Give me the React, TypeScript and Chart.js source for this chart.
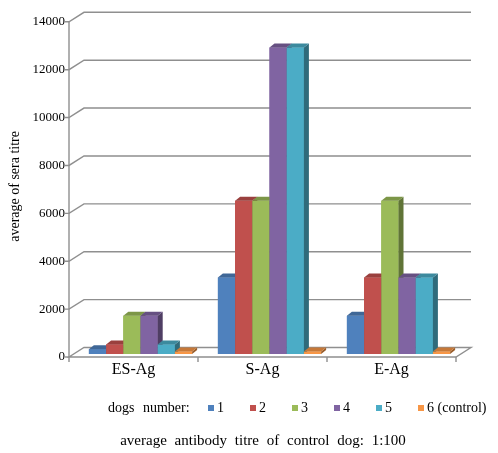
import React, { useEffect, useRef } from 'react';
import { Chart, registerables } from 'chart.js';

Chart.register(...registerables);

// data
const antigens = ['ES-Ag', 'S-Ag', 'E-Ag'];
const dogLabels = ['1', '2', '3', '4', '5', '6 (control)'];
const dog1 = [200, 3200, 1600];
const dog2 = [400, 6400, 3200];
const dog3 = [1600, 6400, 6400];
const dog4 = [1600, 12800, 3200];
const dog5 = [400, 12800, 3200];
const dog6 = [100, 100, 100];
const dogValues = [dog1, dog2, dog3, dog4, dog5, dog6];
const dogColors = ['#4F81BD', '#C0504D', '#9BBB59', '#8064A2', '#4BACC6', '#F79646'];
const yMax = 14000;
const yStep = 2000;
const yTitle = 'average of sera titre';
const legendTitle = 'dogs number:';
const caption = 'average antibody titre of control dog: 1:100';

const FONT = '"Liberation Serif", "Times New Roman", serif';
const GRID = '#8f8f8f';
// fake 3d: front plane, back wall and bar depth offsets (px)
const FRONT = { dx: -7, dy: 3 };
const BACK = { dx: 8, dy: -6.5 };
const DEPTH = { dx: 5, dy: -4 };

const shade = (hex: string, f: number) => {
  const n = parseInt(hex.slice(1), 16);
  const r = Math.round(((n >> 16) & 255) * f);
  const g = Math.round(((n >> 8) & 255) * f);
  const b = Math.round((n & 255) * f);
  return `rgb(${r},${g},${b})`;
};

const wallPlugin = {
  id: 'wall3d',
  beforeDatasetsDraw(chart: any) {
    const { ctx, chartArea: a, scales } = chart;
    const y = scales.y;
    const x = scales.x;
    const fl = a.left + FRONT.dx;
    const fr = a.right + FRONT.dx;
    const bl = a.left + BACK.dx;
    const br = a.right + BACK.dx;
    const y0 = y.getPixelForValue(0);
    ctx.save();
    ctx.strokeStyle = GRID;
    ctx.lineWidth = 1.4;
    // floor
    ctx.fillStyle = '#fff';
    ctx.beginPath();
    ctx.moveTo(fl, y0 + FRONT.dy);
    ctx.lineTo(fr, y0 + FRONT.dy);
    ctx.lineTo(br, y0 + BACK.dy);
    ctx.lineTo(bl, y0 + BACK.dy);
    ctx.closePath();
    ctx.fill();
    ctx.stroke();
    // back wall grid lines
    y.ticks.forEach((t: any) => {
      const py = y.getPixelForValue(t.value);
      ctx.beginPath();
      ctx.moveTo(fl - 4, py + FRONT.dy);
      ctx.lineTo(fl, py + FRONT.dy);
      if (t.value > 0) {
        ctx.lineTo(bl, py + BACK.dy);
        ctx.lineTo(br, py + BACK.dy);
      }
      ctx.stroke();
    });
    // front value axis
    ctx.beginPath();
    ctx.moveTo(fl, y0 + FRONT.dy);
    ctx.lineTo(fl, y.getPixelForValue(y.max) + FRONT.dy);
    ctx.stroke();
    // category dividers
    const n = x.ticks.length;
    const w = (a.right - a.left) / n;
    for (let k = 0; k <= n; k++) {
      const px = a.left + k * w + FRONT.dx;
      ctx.beginPath();
      ctx.moveTo(px, y0 + FRONT.dy);
      ctx.lineTo(px, y0 + FRONT.dy + 5);
      ctx.stroke();
    }
    ctx.restore();
  },
};

const barPlugin = {
  id: 'bars3d',
  afterDatasetsDraw(chart: any) {
    const { ctx } = chart;
    const nCat = chart.data.labels.length;
    ctx.save();
    for (let j = 0; j < nCat; j++) {
      chart.data.datasets.forEach((ds: any, i: number) => {
        const el = chart.getDatasetMeta(i).data[j];
        if (!el) return;
        const { x, y, base, width } = el.getProps(['x', 'y', 'base', 'width'], true);
        const l = x - width / 2;
        const r = x + width / 2;
        el.draw(ctx);
        ctx.fillStyle = shade(ds.backgroundColor, 0.62);
        ctx.beginPath();
        ctx.moveTo(r, y);
        ctx.lineTo(r + DEPTH.dx, y + DEPTH.dy);
        ctx.lineTo(r + DEPTH.dx, base + DEPTH.dy);
        ctx.lineTo(r, base);
        ctx.closePath();
        ctx.fill();
        ctx.fillStyle = shade(ds.backgroundColor, 0.8);
        ctx.beginPath();
        ctx.moveTo(l, y);
        ctx.lineTo(l + DEPTH.dx, y + DEPTH.dy);
        ctx.lineTo(r + DEPTH.dx, y + DEPTH.dy);
        ctx.lineTo(r, y);
        ctx.closePath();
        ctx.fill();
      });
    }
    ctx.restore();
  },
};

// legend row + caption under the plot
const footerPlugin = {
  id: 'footer',
  afterDraw(chart: any) {
    const { ctx } = chart;
    ctx.save();
    ctx.fillStyle = '#000';
    ctx.textBaseline = 'middle';
    ctx.textAlign = 'left';
    const ly = 408;
    ctx.font = `14px ${FONT}`;
    (ctx as any).wordSpacing = '5px';
    ctx.fillText(legendTitle, 108, ly);
    (ctx as any).wordSpacing = '0px';
    chart.data.datasets.forEach((ds: any, i: number) => {
      const bx = 208 + i * 42;
      ctx.fillStyle = ds.backgroundColor;
      ctx.fillRect(bx, ly - 3, 6, 6);
      ctx.fillStyle = '#000';
      ctx.fillText(ds.label, bx + 9, ly);
    });
    ctx.font = `15px ${FONT}`;
    ctx.textAlign = 'center';
    (ctx as any).wordSpacing = '4px';
    ctx.fillText(caption, 263, 441);
    ctx.restore();
  },
};

const App: React.FC = () => {
  const canvasRef = useRef<HTMLCanvasElement>(null);

  useEffect(() => {
    if (!canvasRef.current) return;
    const chart = new Chart(canvasRef.current, {
      type: 'bar',
      data: {
        labels: antigens,
        datasets: dogValues.map((vals, i) => ({
          label: dogLabels[i],
          data: vals,
          backgroundColor: dogColors[i],
          borderWidth: 0,
          categoryPercentage: 0.8,
          barPercentage: 1,
        })),
      },
      options: {
        responsive: true,
        maintainAspectRatio: false,
        animation: false,
        layout: { padding: { left: 4, right: 35, top: 17, bottom: 69 } },
        plugins: {
          legend: { display: false },
          tooltip: { enabled: false },
        },
        scales: {
          x: {
            grid: { display: false, drawTicks: false },
            border: { display: false },
            ticks: { font: { family: FONT, size: 16 }, color: '#000', padding: 6, labelOffset: FRONT.dx },
            afterFit: (s: any) => {
              s.height = 30;
            },
          },
          y: {
            min: 0,
            max: yMax,
            grid: { display: false, drawTicks: false },
            border: { display: false },
            ticks: {
              stepSize: yStep,
              font: { family: FONT, size: 13 },
              color: '#000',
              padding: 11,
              labelOffset: FRONT.dy,
              callback: (v: any) => String(v),
            },
            title: { display: true, text: yTitle, font: { family: FONT, size: 14 }, color: '#000', padding: { top: 3, bottom: 0 } },
            afterFit: (s: any) => {
              s.width = 72;
            },
          },
        },
      },
      plugins: [wallPlugin, barPlugin, footerPlugin],
    });
    return () => {
      chart.destroy();
    };
  }, []);

  return (
    <div style={{ position: 'absolute', left: 0, top: 0, width: '498px', height: '453px', background: '#fff' }}>
      <canvas ref={canvasRef} />
    </div>
  );
};

export default App;
